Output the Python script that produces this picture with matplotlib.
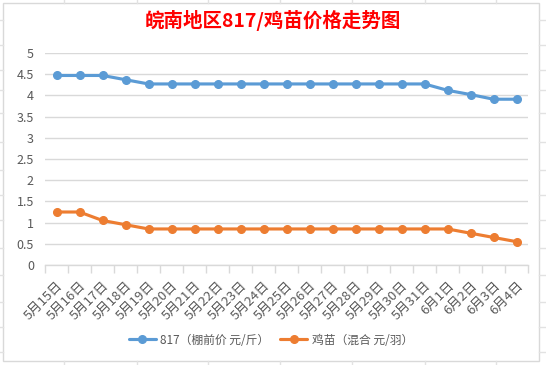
import matplotlib
matplotlib.use("Agg")
import matplotlib.pyplot as plt
from matplotlib.lines import Line2D
from matplotlib.patches import Rectangle

plt.rcParams['font.family'] = ['Noto Sans CJK SC', 'DejaVu Sans']

dates = ["5月15日", "5月16日", "5月17日", "5月18日", "5月19日", "5月20日", "5月21日",
         "5月22日", "5月23日", "5月24日", "5月25日", "5月26日", "5月27日", "5月28日",
         "5月29日", "5月30日", "5月31日", "6月1日", "6月2日", "6月3日", "6月4日"]
price_817 = [4.47, 4.47, 4.47, 4.37, 4.27, 4.27, 4.27, 4.27, 4.27, 4.27, 4.27,
             4.27, 4.27, 4.27, 4.27, 4.27, 4.27, 4.12, 4.02, 3.91, 3.91]
price_chick = [1.25, 1.25, 1.05, 0.95, 0.85, 0.85, 0.85, 0.85, 0.85, 0.85, 0.85,
               0.85, 0.85, 0.85, 0.85, 0.85, 0.85, 0.85, 0.75, 0.65, 0.55]
yticks = [0, 0.5, 1, 1.5, 2, 2.5, 3, 3.5, 4, 4.5, 5]
ytick_labels = ["0", "0.5", "1", "1.5", "2", "2.5", "3", "3.5", "4", "4.5", "5"]
label_817 = "817（棚前价 元/斤）"
label_chick = "鸡苗（混合 元/羽）"
title = "皖南地区817/鸡苗价格走势图"

W, H = 546, 365
fig = plt.figure(figsize=(W / 100, H / 100), dpi=100)
fig.patch.set_facecolor('white')

# spreadsheet cell lines outside the chart
cell_col = '#E2E2E2'
for x in [64, 137, 208, 280, 352, 425, 496]:
    fig.add_artist(Line2D([x / W, x / W], [1, 1 - 3 / H], color=cell_col, lw=1, transform=fig.transFigure))
    fig.add_artist(Line2D([x / W, x / W], [0, 1 - 361 / H], color=cell_col, lw=1, transform=fig.transFigure))
for y in [20, 45, 70, 90, 113, 142, 170, 195, 220, 248, 275, 302, 327, 352]:
    fig.add_artist(Line2D([539 / W, 1], [1 - y / H, 1 - y / H], color=cell_col, lw=1, transform=fig.transFigure))
    fig.add_artist(Line2D([0, 3 / W], [1 - y / H, 1 - y / H], color=cell_col, lw=1, transform=fig.transFigure))

# chart border
fig.add_artist(Rectangle((3 / W, 1 - 361 / H), 536 / W, 358 / H, fill=True, facecolor='white',
                         edgecolor='#D9D9D9', lw=1, transform=fig.transFigure, zorder=0))

ax = fig.add_axes([45 / W, 1 - 265 / H, 483 / W, 212 / H])
ax.set_facecolor('none')
x = list(range(len(dates)))
ax.plot(x, price_817, color='#5B9BD5', lw=2.25, marker='o', markersize=5.5, label=label_817,
        solid_capstyle='round', zorder=3)
ax.plot(x, price_chick, color='#ED7D31', lw=2.25, marker='o', markersize=5.5, label=label_chick,
        solid_capstyle='round', zorder=3)

ax.set_xlim(-0.5, len(dates) - 0.5)
ax.set_ylim(0, 5)
ax.set_yticks(yticks)
ax.set_yticklabels(ytick_labels)
ax.grid(axis='y', color='#D9D9D9', lw=1)
ax.set_axisbelow(True)
for s in ['top', 'right', 'left']:
    ax.spines[s].set_visible(False)
ax.spines['bottom'].set_color('#D9D9D9')
ax.spines['bottom'].set_linewidth(1)
ax.tick_params(axis='y', length=0, pad=8, labelsize=9, labelcolor='#595959')
ax.set_xticks(x)
ax.set_xticklabels(dates, rotation=45, ha='right', rotation_mode='anchor')
ax.tick_params(axis='x', which='major', length=0, pad=10, labelsize=9.5, labelcolor='#595959')
ax.set_xticks([i - 0.5 for i in range(len(dates) + 1)], minor=True)
ax.tick_params(axis='x', which='minor', length=6, color='#D9D9D9', width=1)

fig.text(273 / W, 1 - 20 / H, title, color='#FF0000', fontsize=14, fontweight='bold',
         ha='center', va='center')

fig.legend(loc='center', bbox_to_anchor=(271 / W, 1 - 340 / H), ncol=2, frameon=False,
           fontsize=8.5, labelcolor='#595959', handlelength=2.3, columnspacing=0.9,
           handletextpad=0.4)

fig.savefig('out.png', dpi=100)
